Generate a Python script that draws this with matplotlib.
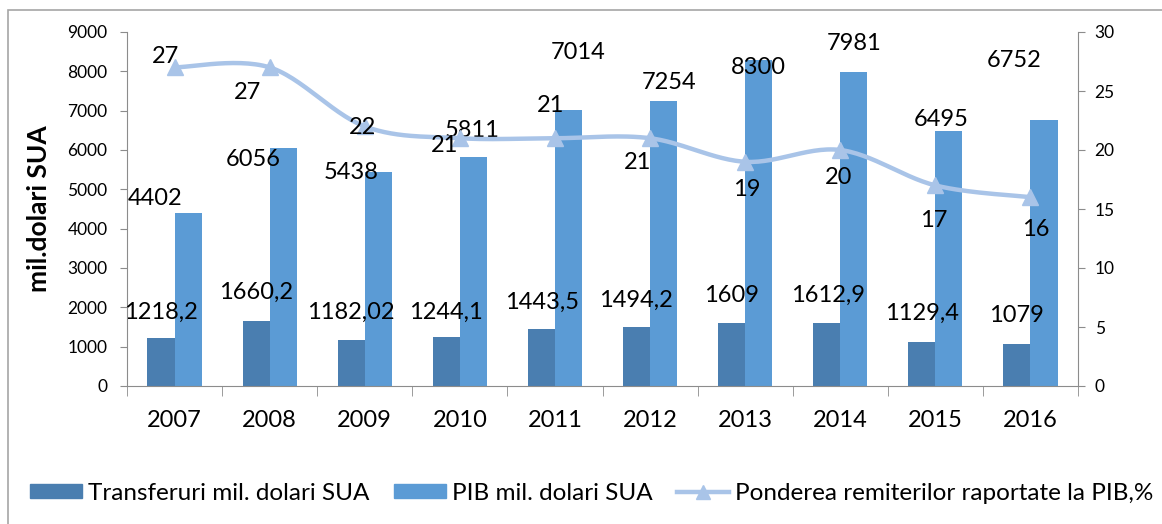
import numpy as np
import matplotlib.pyplot as plt
from matplotlib.patches import Patch, Rectangle
from matplotlib.lines import Line2D

plt.rcParams['font.family'] = ['Lato', 'DejaVu Sans']

years = ['2007', '2008', '2009', '2010', '2011', '2012', '2013', '2014', '2015', '2016']
transferuri = [1218.2, 1660.2, 1182.02, 1244.1, 1443.5, 1494.2, 1609, 1612.9, 1129.4, 1079]
transferuri_labels = ['1218,2', '1660,2', '1182,02', '1244,1', '1443,5', '1494,2', '1609', '1612,9', '1129,4', '1079']
pib = [4402, 6056, 5438, 5811, 7014, 7254, 8300, 7981, 6495, 6752]
pondere = [27, 27, 22, 21, 21, 21, 19, 20, 17, 16]

# label offsets in pixels (x, y) relative to the point / bar top
off_tr = [(-14, 26), (-14, 28), (-14, 27), (-14, 25), (-13, 27), (-14, 27), (-14, 27), (-12, 27), (-13, 28), (-14, 28)]
off_pib = [(-33, 14), (-30, -12), (-27, 0), (-1, 27), (10, 58), (5, 18), (0, -8), (0, 29), (-8, 11), (-30, 60)]
off_pon = [(-9, 11), (-22, -25), (-2, -1), (-15, -7), (-4, 33), (-12, -24), (2, -28), (-2, -28), (-2, -35), (5, -32)]

dark = '#4A7EB0'
light = '#5B9BD5'
line_c = '#A9C4E8'
axis_c = '#8C8C8C'

fig = plt.figure(figsize=(11.62, 5.24), dpi=100)
fig.patches.append(Rectangle((8 / 1162, -0.1), 1.2, 1.1 - 10 / 524, transform=fig.transFigure,
                             fill=False, edgecolor='#A6A6A6', linewidth=1.2))
ax = fig.add_axes([127 / 1162, 1 - 386 / 524, (1078 - 127) / 1162, (386 - 32) / 524])
ax2 = ax.twinx()

x = np.arange(len(years))
w = 0.285
ax.bar(x - w / 2, transferuri, w, color=dark, zorder=2)
ax.bar(x + w / 2, pib, w, color=light, zorder=2)
ax.set_xlim(-0.5, len(years) - 0.5)
ax.set_ylim(0, 9000)
ax.set_yticks(np.arange(0, 9001, 1000))
ax2.set_ylim(0, 30)
ax2.set_yticks(np.arange(0, 31, 5))

# smoothed line (Catmull-Rom through the data points)
px = np.concatenate([[x[0]], x, [x[-1]]]).astype(float)
py = np.concatenate([[pondere[0]], pondere, [pondere[-1]]]).astype(float)
sx, sy = [], []
t = np.linspace(0, 1, 30)
for i in range(1, len(px) - 2):
    for arr, out in ((px, sx), (py, sy)):
        p0, p1, p2, p3 = arr[i - 1], arr[i], arr[i + 1], arr[i + 2]
        out.extend(0.5 * ((2 * p1) + (-p0 + p2) * t + (2 * p0 - 5 * p1 + 4 * p2 - p3) * t ** 2
                          + (-p0 + 3 * p1 - 3 * p2 + p3) * t ** 3))
ax2.plot(sx, sy, color=line_c, linewidth=3.2, zorder=3, solid_capstyle='round')
ax2.plot(x, pondere, linestyle='none', marker='^', markersize=11, color=line_c, zorder=4)

fs = 17
for i in range(len(years)):
    ax.annotate(transferuri_labels[i], (x[i], transferuri[i]), xytext=off_tr[i], textcoords='offset pixels',
                ha='center', va='center', fontsize=fs, color='black', zorder=5)
    ax.annotate(str(pib[i]), (x[i] + w / 2, pib[i]), xytext=off_pib[i], textcoords='offset pixels',
                ha='center', va='center', fontsize=fs, color='black', zorder=5)
    ax2.annotate(str(pondere[i]), (x[i], pondere[i]), xytext=off_pon[i], textcoords='offset pixels',
                 ha='center', va='center', fontsize=fs, color='black', zorder=5)

ax.set_xticks(x)
ax.set_xticklabels(years, fontsize=17)
ax.set_xticks(np.arange(-0.5, len(years), 1), minor=True)
ax.tick_params(axis='x', which='major', length=0, pad=17)
ax.tick_params(axis='x', which='minor', length=7, color=axis_c, direction='out')
ax.tick_params(axis='y', labelsize=12.5, length=5, color=axis_c, pad=9)
ax2.tick_params(axis='y', labelsize=12.5, length=5, color=axis_c, pad=7)
ax.set_ylabel('mil.dolari SUA', fontsize=19, fontweight='bold', labelpad=12)

for a in (ax, ax2):
    a.spines['top'].set_visible(False)
    for s in ('left', 'right', 'bottom'):
        a.spines[s].set_color(axis_c)
ax.spines['right'].set_visible(False)
ax2.spines['left'].set_visible(False)
ax2.spines['bottom'].set_visible(False)

handles = [Patch(color=dark), Patch(color=light),
           Line2D([], [], color=line_c, linewidth=3.2, marker='^', markersize=10)]
labels = ['Transferuri mil. dolari SUA', 'PIB mil. dolari SUA', 'Ponderea remiterilor raportate la PIB,%']
fig.legend(handles, labels, loc='center left', bbox_to_anchor=(20 / 1162, 1 - 493 / 524), ncol=3,
           frameon=False, fontsize=17.5, handlelength=2.15, handleheight=0.5, handletextpad=0.25,
           columnspacing=1.0, borderaxespad=0)

fig.savefig('out.png', dpi=100)
